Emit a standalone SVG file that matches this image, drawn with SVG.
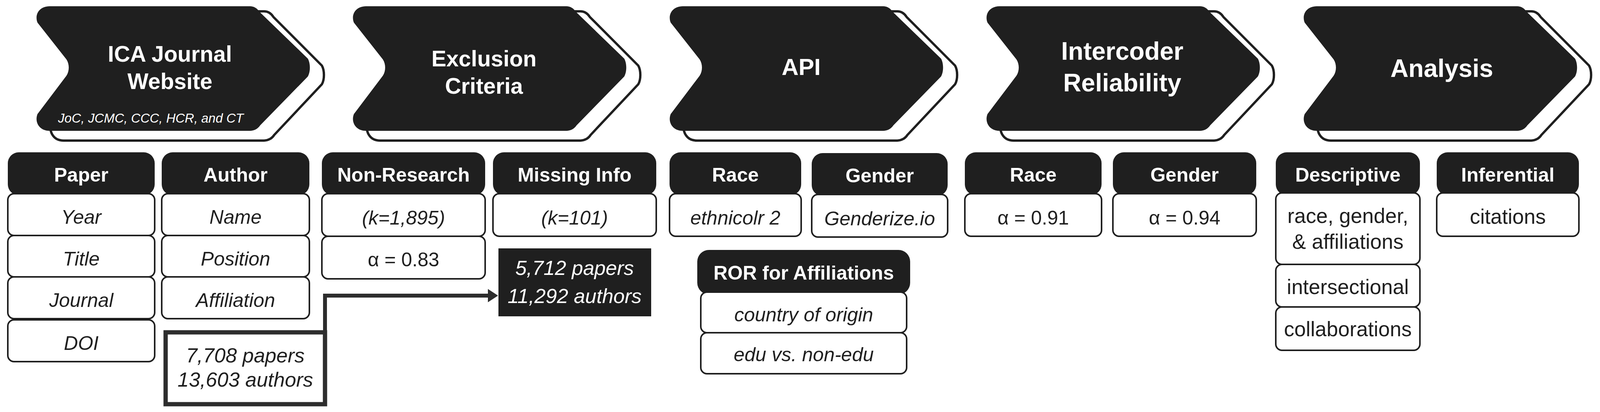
<svg xmlns="http://www.w3.org/2000/svg" width="4100" height="1055" viewBox="0 0 4100 1055">
<style>
text { font-family: "Liberation Sans", Arial, sans-serif; }
.chev { fill: #1f1f1f; }
.shadow { fill: #ffffff; stroke: #1f1f1f; stroke-width: 6; }
.title { fill: #ffffff; font-weight: bold; text-anchor: middle; }
.sub { fill: #ffffff; font-style: italic; font-size: 33px; text-anchor: middle; }
.hdr { fill: #1f1f1f; }
.hdrt { fill: #ffffff; font-weight: bold; font-size: 50px; text-anchor: middle; }
.row { fill: #ffffff; stroke: #1f1f1f; stroke-width: 4; }
.rt { fill: #1f1f1f; font-size: 50px; text-anchor: middle; }
.at { fill: #1f1f1f; font-size: 53px; text-anchor: middle; }
.it { font-style: italic; }
.count { fill: #ffffff; stroke: #2d2d2d; stroke-width: 11; }
.countb { fill: #1f1f1f; }
.ct { font-size: 52px; font-style: italic; text-anchor: middle; }
.conn { fill: none; stroke: #2d2d2d; stroke-width: 10; }
</style>
<defs>
<path id="chevShape" d="M 35,16 L 548,16 C 558,16 566,21 572,30 L 696,150 C 703,162 703,184 696,196 L 574,321 C 568,330 558,335 548,335 L 35,335 C 8,335 -4,312 4,292 L 78,194 C 86,182 86,164 78,152 L 4,58 C -4,38 8,16 35,16 Z"/>
<path id="chevShadow" d="M 71,29 L 584,29 C 594,29 602,34 608,43.5 L 732,168 C 739,180.5 739,203.3 732,215.8 L 610,345.5 C 604,354.8 594,360 584,360 L 71,360 C 44,360 32,336 40,315.4 L 114,213.7 C 122,201 122,182.6 114,170 L 40,72.6 C 32,51.8 44,29 71,29 Z"/>
<marker id="arrow" markerUnits="userSpaceOnUse" markerWidth="26" markerHeight="34" refX="1" refY="17" orient="auto">
<polygon points="0,0 26,17 0,34" fill="#2d2d2d"/>
</marker>
</defs>
<rect x="0" y="0" width="4100" height="1055" fill="#ffffff"/>

<!-- Chevrons -->
<g id="step-ica" transform="translate(92,0)">
<use href="#chevShadow" class="shadow"/>
<use href="#chevShape" class="chev"/>
<text class="title" x="343" y="158" font-size="57">ICA Journal</text>
<text class="title" x="343" y="228" font-size="57">Website</text>
<text class="sub" x="294" y="314">JoC, JCMC, CCC, HCR, and CT</text>
</g>
<g id="step-exclusion" transform="translate(902,0)">
<use href="#chevShadow" class="shadow"/>
<use href="#chevShape" class="chev"/>
<text class="title" x="337" y="170" font-size="57">Exclusion</text>
<text class="title" x="337" y="240" font-size="57">Criteria</text>
</g>
<g id="step-api" transform="translate(1713,0)">
<use href="#chevShadow" class="shadow"/>
<use href="#chevShape" class="chev"/>
<text class="title" x="338" y="192" font-size="60">API</text>
</g>
<g id="step-icr" transform="translate(2524,0)">
<use href="#chevShadow" class="shadow"/>
<use href="#chevShape" class="chev"/>
<text class="title" x="349" y="153" font-size="64">Intercoder</text>
<text class="title" x="349" y="234" font-size="64">Reliability</text>
</g>
<g id="step-analysis" transform="translate(3336,0)">
<use href="#chevShadow" class="shadow"/>
<use href="#chevShape" class="chev"/>
<text class="title" x="355" y="197" font-size="64">Analysis</text>
</g>

<!-- Paper -->
<g id="col-paper">
<rect class="hdr" x="20" y="390" width="376" height="110" rx="28"/>
<text class="hdrt" x="208" y="465">Paper</text>
<rect class="row" x="20" y="496" width="376" height="107" rx="16"/>
<text class="rt it" x="208" y="573">Year</text>
<rect class="row" x="20" y="603" width="376" height="106" rx="16"/>
<text class="rt it" x="208" y="680">Title</text>
<rect class="row" x="20" y="709" width="376" height="107" rx="16"/>
<text class="rt it" x="208" y="786">Journal</text>
<rect class="row" x="20" y="819" width="376" height="107" rx="16"/>
<text class="rt it" x="208" y="896">DOI</text>
</g>

<!-- Author -->
<g id="col-author">
<rect class="hdr" x="414" y="390" width="378" height="110" rx="28"/>
<text class="hdrt" x="603" y="465">Author</text>
<rect class="row" x="414" y="496" width="378" height="107" rx="16"/>
<text class="rt it" x="603" y="573">Name</text>
<rect class="row" x="414" y="603" width="378" height="106" rx="16"/>
<text class="rt it" x="603" y="680">Position</text>
<rect class="row" x="414" y="709" width="378" height="107" rx="16"/>
<text class="rt it" x="603" y="786">Affiliation</text>
</g>

<!-- Non-Research -->
<g id="col-nonresearch">
<rect class="hdr" x="824" y="390" width="418" height="110" rx="28"/>
<text class="hdrt" x="1033" y="465">Non-Research</text>
<rect class="row" x="824" y="496" width="418" height="109" rx="16"/>
<text class="rt it" x="1033" y="575">(k=1,895)</text>
<rect class="row" x="824" y="605" width="418" height="109" rx="16"/>
<text class="rt" x="1033" y="682">α = 0.83</text>
</g>

<!-- Missing Info -->
<g id="col-missing">
<rect class="hdr" x="1262" y="390" width="418" height="110" rx="28"/>
<text class="hdrt" x="1471" y="465">Missing Info</text>
<rect class="row" x="1262" y="496" width="418" height="109" rx="16"/>
<text class="rt it" x="1471" y="575">(k=101)</text>
</g>

<!-- API Race -->
<g id="col-api-race">
<rect class="hdr" x="1714" y="390" width="337" height="110" rx="28"/>
<text class="hdrt" x="1882.5" y="465">Race</text>
<rect class="row" x="1714" y="496" width="337" height="109" rx="16"/>
<text class="rt it" x="1882.5" y="575">ethnicolr 2</text>
</g>

<!-- API Gender -->
<g id="col-api-gender">
<rect class="hdr" x="2078" y="392" width="348" height="110" rx="28"/>
<text class="hdrt" x="2252" y="467">Gender</text>
<rect class="row" x="2078" y="498" width="348" height="109" rx="16"/>
<text class="rt it" x="2252" y="577">Genderize.io</text>
</g>

<!-- ROR -->
<g id="col-ror">
<rect class="hdr" x="1785" y="640" width="545" height="114" rx="30"/>
<text class="hdrt" x="2057.5" y="716">ROR for Affiliations</text>
<rect class="row" x="1794" y="748" width="527" height="104" rx="16"/>
<text class="rt it" x="2057.5" y="823">country of origin</text>
<rect class="row" x="1794" y="852" width="527" height="105" rx="16"/>
<text class="rt it" x="2057.5" y="925">edu vs. non-edu</text>
</g>

<!-- IR Race -->
<g id="col-icr-race">
<rect class="hdr" x="2470" y="390" width="350" height="110" rx="28"/>
<text class="hdrt" x="2645" y="465">Race</text>
<rect class="row" x="2470" y="496" width="350" height="109" rx="16"/>
<text class="rt" x="2645" y="575">α = 0.91</text>
</g>

<!-- IR Gender -->
<g id="col-icr-gender">
<rect class="hdr" x="2849" y="390" width="367" height="110" rx="28"/>
<text class="hdrt" x="3032.5" y="465">Gender</text>
<rect class="row" x="2849" y="496" width="367" height="109" rx="16"/>
<text class="rt" x="3032.5" y="575">α = 0.94</text>
</g>

<!-- Descriptive -->
<g id="col-descriptive">
<rect class="hdr" x="3266" y="390" width="369" height="110" rx="28"/>
<text class="hdrt" x="3450.5" y="465">Descriptive</text>
<rect class="row" x="3266" y="494" width="369" height="183" rx="16"/>
<text class="at" x="3450.5" y="571">race, gender,</text>
<text class="at" x="3450.5" y="637">&amp; affiliations</text>
<rect class="row" x="3266" y="677" width="369" height="109" rx="16"/>
<text class="at" x="3450.5" y="753">intersectional</text>
<rect class="row" x="3266" y="786" width="369" height="111" rx="16"/>
<text class="at" x="3450.5" y="861">collaborations</text>
</g>

<!-- Inferential -->
<g id="col-inferential">
<rect class="hdr" x="3678" y="390" width="364" height="110" rx="28"/>
<text class="hdrt" x="3860" y="465">Inferential</text>
<rect class="row" x="3678" y="494" width="364" height="111" rx="16"/>
<text class="at" x="3860" y="573">citations</text>
</g>

<!-- Counts -->
<g id="count-initial">
<rect class="count" x="424" y="851" width="408" height="184"/>
<text class="ct" x="628" y="928" fill="#1f1f1f">7,708 papers</text>
<text class="ct" x="628" y="990" fill="#1f1f1f">13,603 authors</text>
</g>
<g id="count-final">
<rect class="countb" x="1276" y="636" width="391" height="174"/>
<text class="ct" x="1471" y="704" fill="#ffffff">5,712 papers</text>
<text class="ct" x="1471" y="776" fill="#ffffff">11,292 authors</text>
</g>

<!-- Connectors -->
<g id="connectors">
<path class="conn" d="M 832,856 V 757 H 1250" marker-end="url(#arrow)"/>
</g>
</svg>
